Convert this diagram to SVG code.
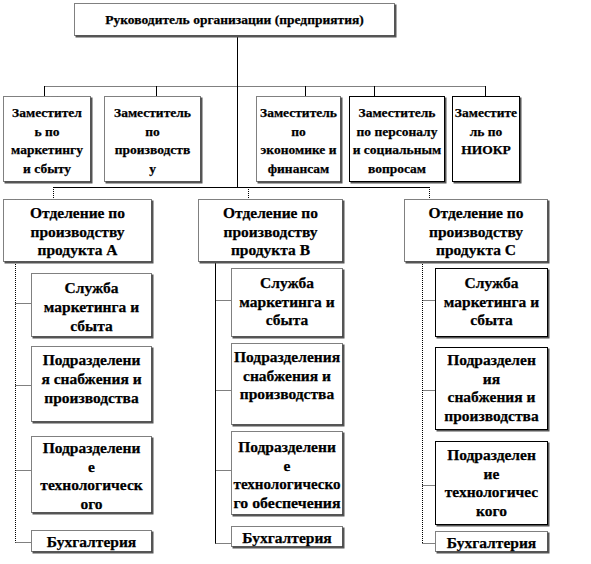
<svg xmlns="http://www.w3.org/2000/svg" width="591" height="564" viewBox="0 0 591 564">
<style>
.box{fill:#fff;stroke:#000;stroke-width:1;stroke-dasharray:1 1}
.solid{stroke-dasharray:none}
.sh{fill:#555;transform:translate(-0.5px,-0.5px)}
text{font-family:"Liberation Serif","Times New Roman",serif;font-weight:bold;font-size:13.5px;text-anchor:middle;fill:#000;stroke:#000;stroke-width:0.25}
.big text{font-size:15.5px}
.ln{stroke:#000;stroke-width:1;fill:none}
.dt{stroke-dasharray:1 1}
</style>
<rect width="591" height="564" fill="#fff"/>
<g id="connectors">
<path class="ln" d="M237.5 36V187"/>
<path class="ln dt" d="M44.5 86.5H485.5"/>
<path class="ln" d="M44.5 86V96M156.5 86V96M305.5 86V96M374.5 86V96M485.5 86V96"/>
<path class="ln" d="M53.5 187.5H429.5"/>
<path class="ln dt" d="M53.5 187V199M248.5 187V199M429.5 187V199"/>
<path class="ln dt" d="M15.5 262V542.5M15.5 303.5H31M15.5 385.5H31M15.5 470.5H31M15.5 542.5H31"/>
<path class="ln" d="M215.5 262V543.5"/>
<path class="ln dt" d="M215.5 300.5H231M215.5 390.5H231M215.5 470.5H231M215.5 543.5H231"/>
<path class="ln dt" d="M422.5 262V543.5M422.5 300.5H435M422.5 390.5H435M422.5 485.5H435M422.5 543.5H435"/>
</g>
<g id="top">
<rect class="sh" x="76" y="5" width="321" height="33"/>
<rect class="box" x="74.5" y="3.5" width="320" height="32"/>
<text x="234.5" y="24">Руководитель организации (предприятия)</text>
</g>
<g id="dep1">
<rect class="sh" x="5" y="98" width="88" height="86"/>
<rect class="box" x="3.5" y="96.5" width="87" height="85"/>
<text x="47" y="117">Заместител</text><text x="47" y="135.5">ь по</text><text x="47" y="154">маркетингу</text><text x="47" y="172.5">и сбыту</text>
</g>
<g id="dep2">
<rect class="sh" x="106" y="98" width="97" height="86"/>
<rect class="box" x="104.5" y="96.5" width="96" height="85"/>
<text x="152.5" y="117">Заместитель</text><text x="152.5" y="135.5">по</text><text x="152.5" y="154">производств</text><text x="152.5" y="172.5">у</text>
</g>
<g id="dep3">
<rect class="sh" x="258" y="98" width="85" height="86"/>
<rect class="box" x="256.5" y="96.5" width="84" height="85"/>
<text x="298.5" y="117">Заместитель</text><text x="298.5" y="135.5">по</text><text x="298.5" y="154">экономике и</text><text x="298.5" y="172.5">финансам</text>
</g>
<g id="dep4">
<rect class="sh" x="351" y="98" width="96" height="86"/>
<rect class="box solid" x="349.5" y="96.5" width="95" height="85"/>
<text x="397" y="117">Заместитель</text><text x="397" y="135.5">по персоналу</text><text x="397" y="154">и социальным</text><text x="397" y="172.5">вопросам</text>
</g>
<g id="dep5">
<rect class="sh" x="454" y="98" width="68" height="86"/>
<rect class="box solid" x="452.5" y="96.5" width="67" height="85"/>
<text x="486" y="117">Заместите</text><text x="486" y="135.5">ль по</text><text x="486" y="154">НИОКР</text>
</g>
<g id="divA" class="big">
<rect class="sh" x="5" y="201" width="149" height="63"/>
<rect class="box" x="3.5" y="199.5" width="148" height="62"/>
<text x="77.5" y="218">Отделение по</text><text x="77.5" y="236.5">производству</text><text x="77.5" y="255">продукта  А</text>
</g>
<g id="divB" class="big">
<rect class="sh" x="200" y="201" width="145" height="63"/>
<rect class="box" x="198.5" y="199.5" width="144" height="62"/>
<text x="270.5" y="218">Отделение по</text><text x="270.5" y="236.5">производству</text><text x="270.5" y="255">продукта  В</text>
</g>
<g id="divC" class="big">
<rect class="sh" x="406" y="201" width="144" height="63"/>
<rect class="box" x="404.5" y="199.5" width="143" height="62"/>
<text x="476" y="218">Отделение по</text><text x="476" y="236.5">производству</text><text x="476" y="255">продукта  С</text>
</g>
<g id="a1" class="big">
<rect class="sh" x="33" y="275" width="121" height="64"/>
<rect class="box" x="31.5" y="273.5" width="120" height="63"/>
<text x="91.5" y="293">Служба</text><text x="91.5" y="312">маркетинга и</text><text x="91.5" y="331">сбыта</text>
</g>
<g id="a2" class="big">
<rect class="sh" x="33" y="348" width="121" height="76"/>
<rect class="box" x="31.5" y="346.5" width="120" height="75"/>
<text x="91.5" y="365">Подразделени</text><text x="91.5" y="384">я снабжения и</text><text x="91.5" y="403">производства</text>
</g>
<g id="a3" class="big">
<rect class="sh" x="33" y="438" width="121" height="77"/>
<rect class="box" x="31.5" y="436.5" width="120" height="76"/>
<text x="91.5" y="453">Подразделени</text><text x="91.5" y="471.5">е</text><text x="91.5" y="490">технологическ</text><text x="91.5" y="509">ого</text>
</g>
<g id="a4" class="big">
<rect class="sh" x="33" y="532" width="121" height="22"/>
<rect class="box" x="31.5" y="530.5" width="120" height="21"/>
<text x="91.5" y="546.5">Бухгалтерия</text>
</g>
<g id="b1" class="big">
<rect class="sh" x="233" y="270" width="112" height="69"/>
<rect class="box" x="231.5" y="268.5" width="111" height="68"/>
<text x="287" y="288">Служба</text><text x="287" y="306.5">маркетинга и</text><text x="287" y="325">сбыта</text>
</g>
<g id="b2" class="big">
<rect class="sh" x="233" y="345" width="112" height="82"/>
<rect class="box" x="231.5" y="343.5" width="111" height="81"/>
<text x="287" y="362">Подразделения</text><text x="287" y="380.5">снабжения и</text><text x="287" y="399">производства</text>
</g>
<g id="b3" class="big">
<rect class="sh" x="233" y="433" width="112" height="84"/>
<rect class="box" x="231.5" y="431.5" width="111" height="83"/>
<text x="287" y="452">Подразделени</text><text x="287" y="470.5">е</text><text x="287" y="489" textLength="107" lengthAdjust="spacingAndGlyphs">технологическо</text><text x="287" y="507.5" textLength="107" lengthAdjust="spacingAndGlyphs">го обеспечения</text>
</g>
<g id="b4" class="big">
<rect class="sh" x="233" y="528" width="112" height="21"/>
<rect class="box" x="231.5" y="526.5" width="111" height="20"/>
<text x="287" y="542.5">Бухгалтерия</text>
</g>
<g id="c1" class="big">
<rect class="sh" x="437" y="270" width="113" height="69"/>
<rect class="box solid" x="435.5" y="268.5" width="112" height="68"/>
<text x="491.5" y="288">Служба</text><text x="491.5" y="306.5">маркетинга и</text><text x="491.5" y="325">сбыта</text>
</g>
<g id="c2" class="big">
<rect class="sh" x="437" y="349" width="113" height="83"/>
<rect class="box solid" x="435.5" y="347.5" width="112" height="82"/>
<text x="491.5" y="365">Подразделен</text><text x="491.5" y="383.5">ия</text><text x="491.5" y="402">снабжения и</text><text x="491.5" y="420.5">производства</text>
</g>
<g id="c3" class="big">
<rect class="sh" x="437" y="443" width="113" height="84"/>
<rect class="box solid" x="435.5" y="441.5" width="112" height="83"/>
<text x="491.5" y="460">Подразделен</text><text x="491.5" y="478.5">ие</text><text x="491.5" y="497">технологичес</text><text x="491.5" y="515.5">кого</text>
</g>
<g id="c4" class="big">
<rect class="sh" x="437" y="533" width="113" height="21"/>
<rect class="box" x="435.5" y="531.5" width="112" height="20"/>
<text x="491.5" y="548">Бухгалтерия</text>
</g>
</svg>
